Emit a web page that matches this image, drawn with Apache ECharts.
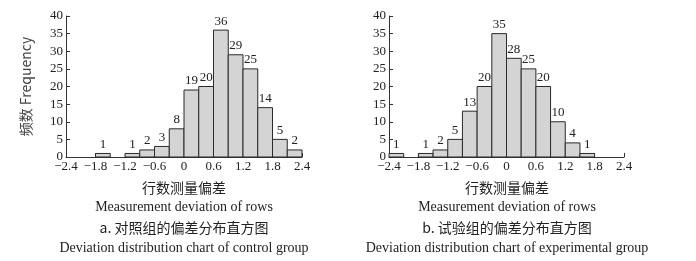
<!DOCTYPE html>
<html>
<head>
<meta charset="utf-8">
<script src="https://cdn.jsdelivr.net/npm/echarts@6/dist/echarts.min.js"></script>
<style>
  html, body { margin: 0; padding: 0; background: #fff; }
  #chart { width: 696px; height: 261px; }
</style>
</head>
<body>
<div id="chart"></div>
<script>
// bin start values (bin width 0.3) and counts
const binWidth = 0.3;
const controlBins = [-1.8, -1.2, -0.9, -0.6, -0.3, 0, 0.3, 0.6, 0.9, 1.2, 1.5, 1.8, 2.1];
const controlCounts = [1, 1, 2, 3, 8, 19, 20, 36, 29, 25, 14, 5, 2];
const expBins = [-2.4, -1.8, -1.5, -1.2, -0.9, -0.6, -0.3, 0, 0.3, 0.6, 0.9, 1.2, 1.5];
const expCounts = [1, 1, 2, 5, 13, 20, 35, 28, 25, 20, 10, 4, 1];

const serif = "'Liberation Serif', 'Times New Roman', serif";
const cjk = "'Noto Sans CJK SC', " + serif;
const textColor = "#222";

let myChart = echarts.init(document.getElementById("chart"));

function renderBar(params, api) {
  const x0 = api.value(0);
  const y = api.value(1);
  const p0 = api.coord([x0, y]);
  const p1 = api.coord([x0 + binWidth, 0]);
  return {
    type: "rect",
    shape: { x: p0[0], y: p0[1], width: p1[0] - p0[0], height: p1[1] - p0[1] },
    style: { fill: "#d4d4d4", stroke: "#2a2a2a", lineWidth: 1 },
    textContent: {
      style: { text: String(y), font: "13px " + serif, fill: textColor }
    },
    textConfig: { position: "top", distance: 2 }
  };
}

function xAxis(idx) {
  return {
    type: "value",
    gridIndex: idx,
    min: -2.4,
    max: 2.4,
    interval: 0.6,
    axisLine: { show: true, onZero: false, lineStyle: { color: "#333", width: 1 } },
    axisTick: { show: true, inside: true, length: 4, lineStyle: { color: "#333" } },
    splitLine: { show: false },
    axisLabel: {
      color: textColor,
      fontFamily: serif,
      fontSize: 13,
      margin: 3,
      formatter: v => {
        const r = Math.round(v * 10) / 10;
        return r < 0 ? "\u2212" + Math.abs(r) : String(r);
      }
    }
  };
}

function yAxis(idx, name) {
  return {
    type: "value",
    gridIndex: idx,
    min: 0,
    max: 40,
    interval: 5,
    name: name,
    nameLocation: "middle",
    nameGap: 33,
    nameTextStyle: { color: "#444", fontFamily: cjk, fontSize: 14 },
    axisLine: { show: true, onZero: false, lineStyle: { color: "#333", width: 1 } },
    axisTick: { show: true, inside: true, length: 4, lineStyle: { color: "#333" } },
    splitLine: { show: false },
    axisLabel: { color: textColor, fontFamily: serif, fontSize: 13, margin: 3 }
  };
}

function caption(x, y, text, font) {
  return {
    type: "text",
    x: x,
    y: y,
    style: { text: text, font: font, fill: textColor, textAlign: "center", textVerticalAlign: "middle" }
  };
}

let option = {
  animation: false,
  grid: [
    { left: 66, top: 16, width: 236, height: 141 },
    { left: 389, top: 16, width: 235, height: 141 }
  ],
  xAxis: [xAxis(0), xAxis(1)],
  yAxis: [yAxis(0, "频数 Frequency"), yAxis(1, "")],
  series: [
    {
      type: "custom",
      xAxisIndex: 0,
      yAxisIndex: 0,
      renderItem: renderBar,
      data: controlBins.map((b, i) => [b, controlCounts[i]])
    },
    {
      type: "custom",
      xAxisIndex: 1,
      yAxisIndex: 1,
      renderItem: renderBar,
      data: expBins.map((b, i) => [b, expCounts[i]])
    }
  ],
  graphic: [
    caption(184, 188, "行数测量偏差", "14px " + cjk),
    caption(184, 207, "Measurement deviation of rows", "14px " + serif),
    caption(184, 228, "a. 对照组的偏差分布直方图", "14px " + cjk),
    caption(184, 248, "Deviation distribution chart of control group", "14px " + serif),
    caption(507, 188, "行数测量偏差", "14px " + cjk),
    caption(507, 207, "Measurement deviation of rows", "14px " + serif),
    caption(507, 228, "b. 试验组的偏差分布直方图", "14px " + cjk),
    caption(507, 248, "Deviation distribution chart of experimental group", "14px " + serif)
  ]
};
myChart.setOption(option);
</script>
</body>
</html>
